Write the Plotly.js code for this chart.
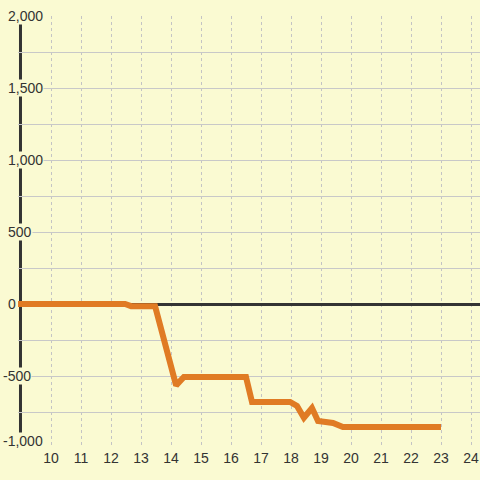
<!DOCTYPE html>
<html>
<head>
<meta charset="utf-8">
<script src="https://cdn.plot.ly/plotly-3.0.1.min.js"></script>
<style>html,body{margin:0;padding:0;background:#fafad2;}#chart{width:480px;height:480px;}</style>
</head>
<body>
<div id="chart"></div>
<script>
// Data
const xHours = [8.9, 12.47, 12.67, 13.47, 14.17, 14.43, 16.5, 16.7, 17.97, 18.2, 18.43, 18.7, 18.9, 19.4, 19.73, 23.0];
const values = [0, 0, -15, -15, -565, -507, -507, -680, -680, -708, -790, -722, -812, -826, -855, -855];
const xTickVals = [10, 11, 12, 13, 14, 15, 16, 17, 18, 19, 20, 21, 22, 23, 24];
const xTickText = ["10", "11", "12", "13", "14", "15", "16", "17", "18", "19", "20", "21", "22", "23", "24"];
const yLabelVals = [-1000, -500, 0, 500, 1000, 1500, 2000];
const yLabelText = ["-1,000", "-500", "0", "500", "1,000", "1,500", "2,000"];
const yGridVals = [-1000, -750, -500, -250, 0, 250, 500, 750, 1000, 1250, 1500, 1750, 2000];

const bg = '#fafad2';
const txt = '#333333';

const trace = {
  x: xHours, y: values, type: 'scatter', mode: 'lines',
  line: {color: '#e07b24', width: 6, shape: 'linear'},
  hoverinfo: 'skip'
};

const yMin = yLabelVals[0];
const annotations = yLabelVals.map((v, i) => ({
  xref: 'paper', yref: 'y', x: 0, y: v,
  xanchor: 'left', yanchor: 'middle',
  xshift: v < 0 ? -16 : -11,
  yshift: v === yMin ? 7 : 0,
  text: yLabelText[i], showarrow: false,
  bgcolor: bg, borderpad: 0,
  font: {family: 'Liberation Sans, Arial, sans-serif', size: 14, color: txt}
}));

const layout = {
  width: 480, height: 480,
  margin: {l: 18, r: 0, t: 16, b: 32, pad: 0},
  paper_bgcolor: bg, plot_bgcolor: bg,
  showlegend: false,
  font: {family: 'Liberation Sans, Arial, sans-serif', size: 14, color: txt},
  xaxis: {
    range: [8.9, 24.3], tickmode: 'array', tickvals: xTickVals, ticktext: xTickText,
    showgrid: true, gridcolor: '#c4c4c4', gridwidth: 1, griddash: 'dot',
    zeroline: false, showline: false, ticks: '',
    tickfont: {size: 14, color: txt}, fixedrange: true
  },
  yaxis: {
    range: [-1000, 2000], tickmode: 'array', tickvals: yGridVals,
    showticklabels: false, ticks: '',
    showgrid: true, gridcolor: '#c8c8c8', gridwidth: 1,
    zeroline: true, zerolinecolor: '#333333', zerolinewidth: 3,
    showline: false, fixedrange: true
  },
  shapes: [{
    type: 'line', xref: 'x', yref: 'y', x0: 8.983, x1: 8.983, y0: -1000, y1: 2000,
    line: {color: '#333333', width: 3}, layer: 'below'
  }],
  annotations: annotations
};

Plotly.newPlot('chart', [trace], layout, {staticPlot: true, displayModeBar: false});
</script>
</body>
</html>
